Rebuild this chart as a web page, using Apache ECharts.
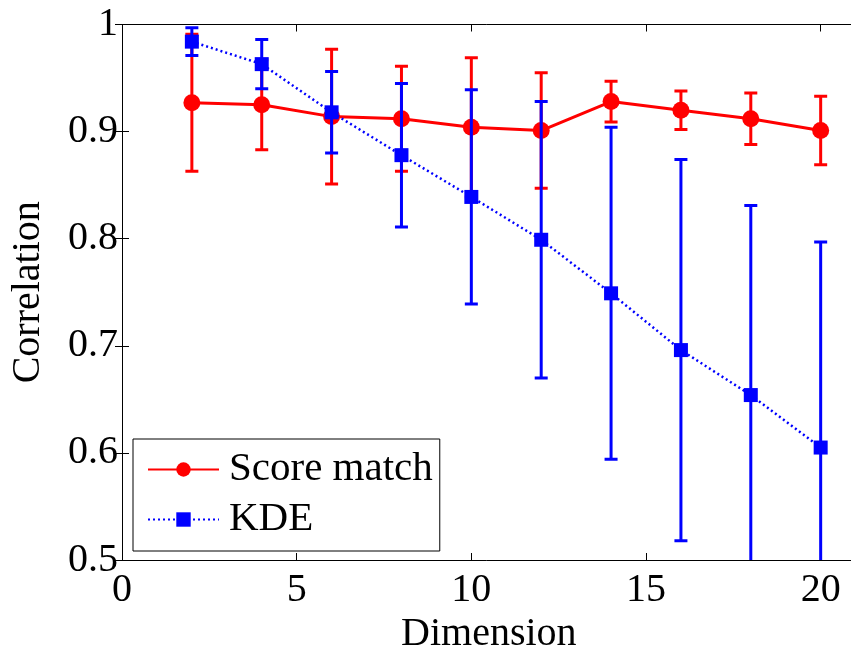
<!DOCTYPE html>
<html>
<head>
<meta charset="utf-8">
<script src="https://cdn.jsdelivr.net/npm/echarts@6/dist/echarts.min.js"></script>
<style>
  html, body { margin: 0; padding: 0; background: #fff; }
  #chart { width: 851px; height: 650px; }
</style>
</head>
<body>
<div id="chart"></div>
<script>
// Dimensions on the x axis
const dims = [2, 4, 6, 8, 10, 12, 14, 16, 18, 20];

// Score matching: mean correlation and error-bar half width
const scoreMean = [0.927, 0.925, 0.914, 0.912, 0.904, 0.901, 0.928, 0.920, 0.912, 0.901];
const scoreErr  = [0.064, 0.042, 0.063, 0.049, 0.065, 0.054, 0.019, 0.018, 0.024, 0.032];

// Kernel density estimate: mean correlation and error-bar half width
const kdeMean = [0.984, 0.963, 0.918, 0.878, 0.839, 0.799, 0.749, 0.696, 0.654, 0.605];
const kdeErr  = [0.013, 0.023, 0.038, 0.067, 0.100, 0.129, 0.155, 0.178, 0.177, 0.192];

const seriesNames = ['Score match', 'KDE'];

const FONT = '"Liberation Serif", "Times New Roman", serif';
const RED = '#ff0000';
const BLUE = '#0000ff';

function errorBars(mean, err) {
  return dims.map((d, i) => [d, mean[i] - err[i], mean[i] + err[i]]);
}

function makeRenderItem(color) {
  return function (params, api) {
    const x = api.value(0);
    const lo = api.coord([x, api.value(1)]);
    const hi = api.coord([x, api.value(2)]);
    const half = 6.5;
    const style = { stroke: color, lineWidth: 3 };
    return {
      type: 'group',
      children: [
        { type: 'line', shape: { x1: lo[0], y1: lo[1], x2: hi[0], y2: hi[1] }, style: style },
        { type: 'line', shape: { x1: hi[0] - half, y1: hi[1], x2: hi[0] + half, y2: hi[1] }, style: style },
        { type: 'line', shape: { x1: lo[0] - half, y1: lo[1], x2: lo[0] + half, y2: lo[1] }, style: style }
      ]
    };
  };
}

const chart = echarts.init(document.getElementById('chart'), null, { renderer: 'canvas' });

const axisLineStyle = { color: '#000', width: 1 };

const option = {
  backgroundColor: '#fff',
  animation: false,
  grid: {
    left: 122, top: 24.5, width: 733.6, height: 535.5,
    containLabel: false, outerBoundsMode: 'none'
  },
  legend: {
    data: seriesNames,
    orient: 'vertical',
    left: 133,
    top: 439,
    itemWidth: 71,
    itemHeight: 18,
    itemGap: 9,
    padding: [10, 7, 11, 14],
    borderColor: '#000',
    borderWidth: 1,
    backgroundColor: '#fff',
    textStyle: { fontFamily: FONT, fontSize: 41, color: '#000', padding: [0, 0, 0, 5] }
  },
  xAxis: [
    {
      type: 'value', min: 0, max: 21, interval: 5, position: 'bottom',
      axisLine: { show: true, lineStyle: axisLineStyle },
      axisTick: { show: true, inside: true, length: 7, lineStyle: axisLineStyle },
      axisLabel: { fontFamily: FONT, fontSize: 40, color: '#000', margin: 10, showMaxLabel: false },
      splitLine: { show: false },
      name: 'Dimension', nameLocation: 'middle', nameGap: 40,
      nameTextStyle: { fontFamily: FONT, fontSize: 40, color: '#000' }
    },
    {
      type: 'value', min: 0, max: 21, interval: 5, position: 'top',
      axisLine: { show: true, lineStyle: axisLineStyle },
      axisTick: { show: true, inside: true, length: 7, lineStyle: axisLineStyle },
      axisLabel: { show: false },
      splitLine: { show: false }
    }
  ],
  yAxis: [
    {
      type: 'value', min: 0.5, max: 1, interval: 0.1, position: 'left',
      axisLine: { show: true, lineStyle: axisLineStyle },
      axisTick: { show: true, inside: true, length: 7, lineStyle: axisLineStyle },
      axisLabel: { fontFamily: FONT, fontSize: 40, color: '#000', margin: 4 },
      splitLine: { show: false },
      name: 'Correlation', nameLocation: 'middle', nameGap: 74,
      nameTextStyle: { fontFamily: FONT, fontSize: 40, color: '#000' }
    },
    {
      type: 'value', min: 0.5, max: 1, interval: 0.1, position: 'right',
      axisLine: { show: true, lineStyle: axisLineStyle },
      axisTick: { show: true, inside: true, length: 7, lineStyle: axisLineStyle },
      axisLabel: { show: false },
      splitLine: { show: false }
    }
  ],
  series: [
    {
      name: 'Score match error',
      type: 'custom',
      clip: true,
      renderItem: makeRenderItem(RED),
      data: errorBars(scoreMean, scoreErr),
      encode: { x: 0, y: [1, 2] },
      z: 2
    },
    {
      name: seriesNames[0],
      type: 'line',
      data: dims.map((d, i) => [d, scoreMean[i]]),
      symbol: 'circle',
      symbolSize: 17,
      itemStyle: { color: RED },
      lineStyle: { color: RED, width: 3 },
      z: 3
    },
    {
      name: 'KDE error',
      type: 'custom',
      clip: true,
      renderItem: makeRenderItem(BLUE),
      data: errorBars(kdeMean, kdeErr),
      encode: { x: 0, y: [1, 2] },
      z: 4
    },
    {
      name: seriesNames[1],
      type: 'line',
      data: dims.map((d, i) => [d, kdeMean[i]]),
      symbol: 'rect',
      symbolSize: 14,
      itemStyle: { color: BLUE },
      lineStyle: { color: BLUE, width: 2.5, type: [2, 3] },
      z: 5
    }
  ]
};

chart.setOption(option);
</script>
</body>
</html>
